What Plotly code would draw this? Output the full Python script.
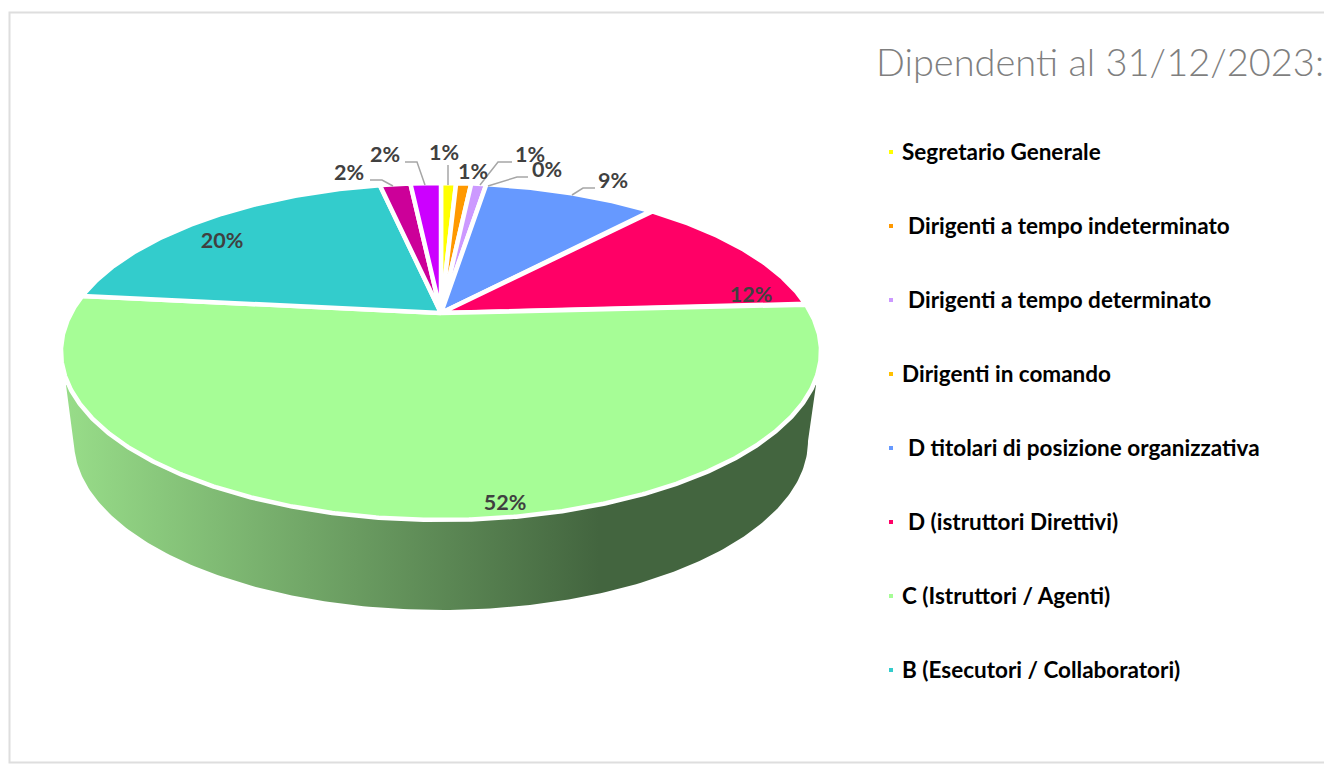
import numpy as np
import plotly.graph_objects as go

# ---- data ----
categories = ["Segretario Generale", "Dirigenti a tempo indeterminato", "Dirigenti a tempo determinato",
              "Dirigenti in comando", "D titolari di posizione organizzativa", "D (istruttori Direttivi)",
              "C (Istruttori / Agenti)", "B (Esecutori / Collaboratori)", "(non in legenda) 1", "(non in legenda) 2"]
values = [0.8, 0.8, 0.8, 0.0, 9.16, 12.5, 52.65, 20.0, 1.62, 1.62]
percent_labels = ["1%", "1%", "1%", "0%", "9%", "12%", "52%", "20%", "2%", "2%"]
colors = ["#FFFF00", "#FF9900", "#CC99FF", "#FFC000", "#6699FF", "#FF0066", "#A6FD96", "#33CCCC", "#CC0099", "#CC00FF"]
legend_labels = ["Segretario Generale", " Dirigenti a tempo indeterminato", " Dirigenti a tempo determinato",
                 "Dirigenti in comando", " D titolari di posizione organizzativa", " D (istruttori Direttivi)",
                 "C (Istruttori / Agenti)", "B (Esecutori / Collaboratori)"]
legend_x = [899.5, 905.5, 905.5, 900, 905.5, 905.5, 900, 900]
label_x = [444, 473, 530, 547, 613, 751, 505, 222, 349, 385]
label_y = [155, 174, 157, 172, 183, 297, 505, 243, 175, 157]
leaders = [
    ([448, 448], [165, 185]),
    None,
    ([512, 498, 480], [162, 162, 185]),
    ([528, 517, 488], [177, 177, 186]),
    ([595, 583, 572], [188, 188, 195]),
    None, None, None,
    ([370, 382, 393], [180, 180, 186]),
    ([405, 417, 425], [162, 162, 185]),
]

# perspective projection of the pie disc onto the page
APEX_X, APEX_Y, A, B, K = 441.0, 313.0, 370.0, 159.7, 0.2284


def project(theta):
    u, v = np.sin(theta), np.cos(theta)
    w = 1 + K * v
    return APEX_X + A * u / w, APEX_Y - B * v / w


fig = go.Figure()

# frame
FRAME = "#DEDEDE"
fig.add_shape(type="rect", x0=9.5, x1=1340, y0=12.5, y1=762.5, line=dict(color=FRAME, width=2), fillcolor="white", layer="below")

# side of the disc
phi = np.linspace(np.pi, 0, 200)
side_x = [66.0] + list(441 + 367 * np.cos(phi)) + [816.0]
side_y = [385.0] + list(441 + 169 * np.sin(phi)) + [385.0]
fig.add_trace(go.Scatter(
    x=side_x, y=side_y, mode="lines", fill="toself", line=dict(width=0), hoverinfo="skip",
    fillcolor="#5C8C55",
    fillgradient=dict(type="horizontal", start=65, stop=817,
                      colorscale=[[0, "#98DD89"], [0.71, "#43653F"], [1, "#43653F"]]),
    showlegend=False))

# slices
total = sum(values)
start = 0.0
for name, val, col in zip(categories, values, colors):
    end = start + val / total * 2 * np.pi
    if val > 0:
        th = np.linspace(start, end, max(4, int(val * 12)))
        px, py = project(th)
        fig.add_trace(go.Scatter(
            x=[APEX_X] + list(px) + [APEX_X], y=[APEX_Y] + list(py) + [APEX_Y],
            mode="lines", fill="toself", fillcolor=col, line=dict(color="white", width=4.5),
            name=name, hoverinfo="name", showlegend=False))
    start = end

# leader lines
for seg in leaders:
    if seg:
        fig.add_trace(go.Scatter(x=seg[0], y=seg[1], mode="lines", line=dict(color="#A6A6A6", width=1.5),
                                 hoverinfo="skip", showlegend=False))

# data labels
fig.add_trace(go.Scatter(
    x=label_x, y=label_y, mode="text", text=percent_labels, textposition="middle center",
    textfont=dict(family="Lato", size=21.5, color="#404040", weight="bold"),
    hoverinfo="skip", showlegend=False))

# legend
row_y = [152 + 74 * i for i in range(len(legend_labels))]
fig.add_trace(go.Scatter(
    x=[891] * len(row_y), y=row_y, mode="markers",
    marker=dict(symbol="square", size=4, color=colors[:len(row_y)]),
    hoverinfo="skip", showlegend=False))
for lab, lx, ly in zip(legend_labels, legend_x, row_y):
    fig.add_annotation(x=lx, y=ly - 1, text=lab.strip(), showarrow=False, xanchor="left", yanchor="middle",
                       font=dict(family="Lato", size=22.5, color="#000000", weight="bold"))

fig.add_annotation(x=874, y=61, text="Dipendenti al 31/12/2023:", showarrow=False, xanchor="left", yanchor="middle",
                   font=dict(family="Lato", size=38, color="#7F7F7F", weight=300))

fig.update_layout(
    width=1324, height=764, margin=dict(l=0, r=0, t=0, b=0), paper_bgcolor="white", plot_bgcolor="white",
    xaxis=dict(range=[0, 1324], visible=False, fixedrange=True),
    yaxis=dict(range=[764, 0], visible=False, fixedrange=True),
    showlegend=False)

fig.write_html("out.html", config=dict(displayModeBar=False),
               post_script="document.body.style.margin='0';document.body.style.overflow='hidden';")
